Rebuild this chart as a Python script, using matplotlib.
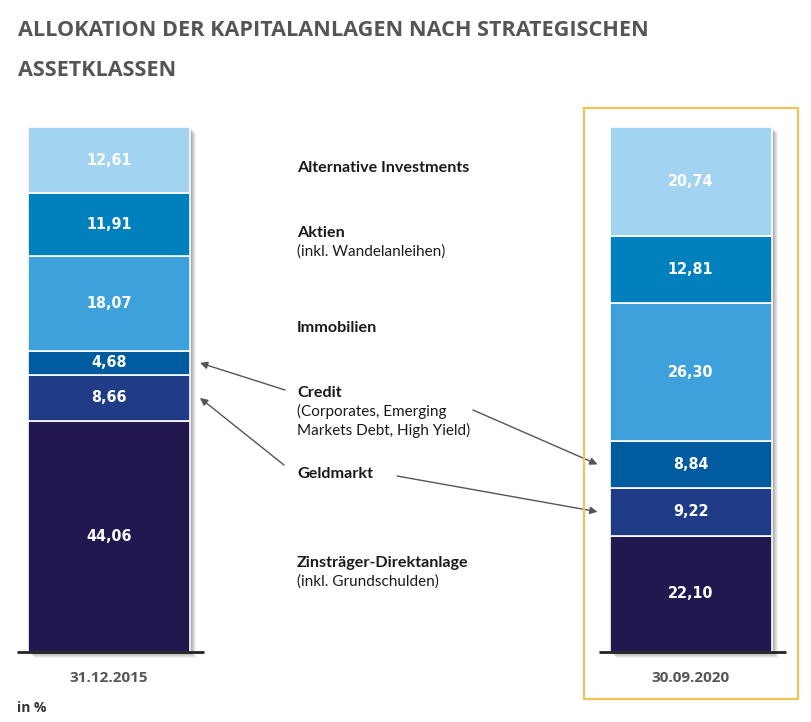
import matplotlib.pyplot as plt
from matplotlib.patches import Rectangle
import numpy as np

plt.rcParams["font.family"] = ["Open Sans", "DejaVu Sans"]

# data (in %), bottom to top
dates = ["31.12.2015", "30.09.2020"]
classes = ["Zinsträger-Direktanlage", "Geldmarkt", "Credit",
           "Immobilien", "Aktien", "Alternative Investments"]
notes = ["(inkl. Grundschulden)", "",
         "(Corporates, Emerging\nMarkets Debt, High Yield)",
         "", "(inkl. Wandelanleihen)", ""]
share_2015 = [44.06, 8.66, 4.68, 18.07, 11.91, 12.61]
share_2020 = [22.10, 9.22, 8.84, 26.30, 12.81, 20.74]
shares = [share_2015, share_2020]
colors = ["#22174F", "#213C87", "#005C9E", "#3FA1DB", "#0180BE", "#A2D3F1"]

W, H = 811, 722
PX_X = 581.5   # pixels per category step
PX_Y = 5.25    # pixels per percent
X0, Y0 = 109, 652
bar_w = 162 / PX_X

fig = plt.figure(figsize=(W / 100, H / 100), dpi=100)
ax = fig.add_axes([0, 0, 1, 1])
ax.set_xlim(-X0 / PX_X, (W - X0) / PX_X)
ax.set_ylim(-(H - Y0) / PX_Y, Y0 / PX_Y)
ax.axis("off")

bar_info = []
for i, vals in enumerate(shares):
    vals = np.array(vals)
    bottoms = np.concatenate([[0], np.cumsum(vals)[:-1]])
    total = vals.sum()
    # soft drop shadow
    for off, a in [(6, 0.05), (5, 0.06), (4, 0.07), (3, 0.08), (2, 0.1)]:
        ax.bar(i + off / PX_X, total, width=bar_w, bottom=-off / PX_Y,
               color="black", alpha=a, linewidth=0, zorder=2)
    ax.bar(i, vals, width=bar_w, bottom=bottoms, color=colors,
           edgecolor="white", linewidth=1.2, zorder=3)
    for v, b in zip(vals, bottoms):
        ax.text(i, b + v / 2, f"{v:.2f}".replace(".", ","),
                ha="center", va="center", color="white",
                fontsize=11.5, fontweight="bold", fontstretch="condensed",
                family=["DejaVu Sans"], zorder=5)
    ax.plot([i - bar_w / 2 - 11 / PX_X, i + bar_w / 2 + 14 / PX_X], [0, 0],
            color="#222222", lw=2, zorder=4, solid_capstyle="butt")
    ax.text(i, -(678 - Y0) / PX_Y, dates[i], ha="center", va="center",
            color="#555555", fontsize=11, fontweight="bold")
    bar_info.append(bottoms + vals / 2)

# highlight box around current allocation
fig.patches.append(Rectangle((584 / W, 1 - 699 / H), (798 - 584) / W,
                             (699 - 108) / H, transform=fig.transFigure,
                             fill=False, edgecolor="#F2C35B", lw=1.6))

# title
fig.text(18 / W, 1 - 31 / H, "ALLOKATION DER KAPITALANLAGEN NACH STRATEGISCHEN",
         va="center", ha="left", fontsize=15.6, fontweight="bold",
         color="#555555")
fig.text(18 / W, 1 - 71 / H, "ASSETKLASSEN",
         va="center", ha="left", fontsize=15.6, fontweight="bold",
         color="#555555")
fig.text(17 / W, 1 - 708 / H, "in %", va="center", ha="left",
         fontsize=10, fontweight="bold", color="#333333")

# category labels in the middle
label_y = [563, 474, 393, 328, 233, 168]
lato = ["Lato", "DejaVu Sans"]
for name, note, y in zip(classes, notes, label_y):
    fig.text(297 / W, 1 - y / H, name, va="center", ha="left",
             fontsize=11.6, fontweight="bold", color="#1a1a1a", family=lato)
    if note:
        fig.text(297 / W, 1 - (y + 11) / H, note, va="top", ha="left",
                 fontsize=11, color="#1a1a1a", family=lato,
                 linespacing=1.3)

# arrows from labels to the segments
arrow = dict(arrowstyle="-|>", color="#555555", lw=1,
             mutation_scale=11, shrinkA=0, shrinkB=0)
left_tip = bar_w / 2 + 10 / PX_X
right_tip = 1 - bar_w / 2 - 12 / PX_X
ax.annotate("", xy=(left_tip, bar_info[0][2]), xytext=(285, H - 390),
            textcoords="figure pixels", arrowprops=arrow)
ax.annotate("", xy=(left_tip, bar_info[0][1]), xytext=(284, H - 465),
            textcoords="figure pixels", arrowprops=arrow)
ax.annotate("", xy=(right_tip, bar_info[1][2]), xytext=(473, H - 410),
            textcoords="figure pixels", arrowprops=arrow)
ax.annotate("", xy=(right_tip, bar_info[1][1]), xytext=(397, H - 476),
            textcoords="figure pixels", arrowprops=arrow)

fig.savefig("out.png", dpi=100, facecolor="white")
